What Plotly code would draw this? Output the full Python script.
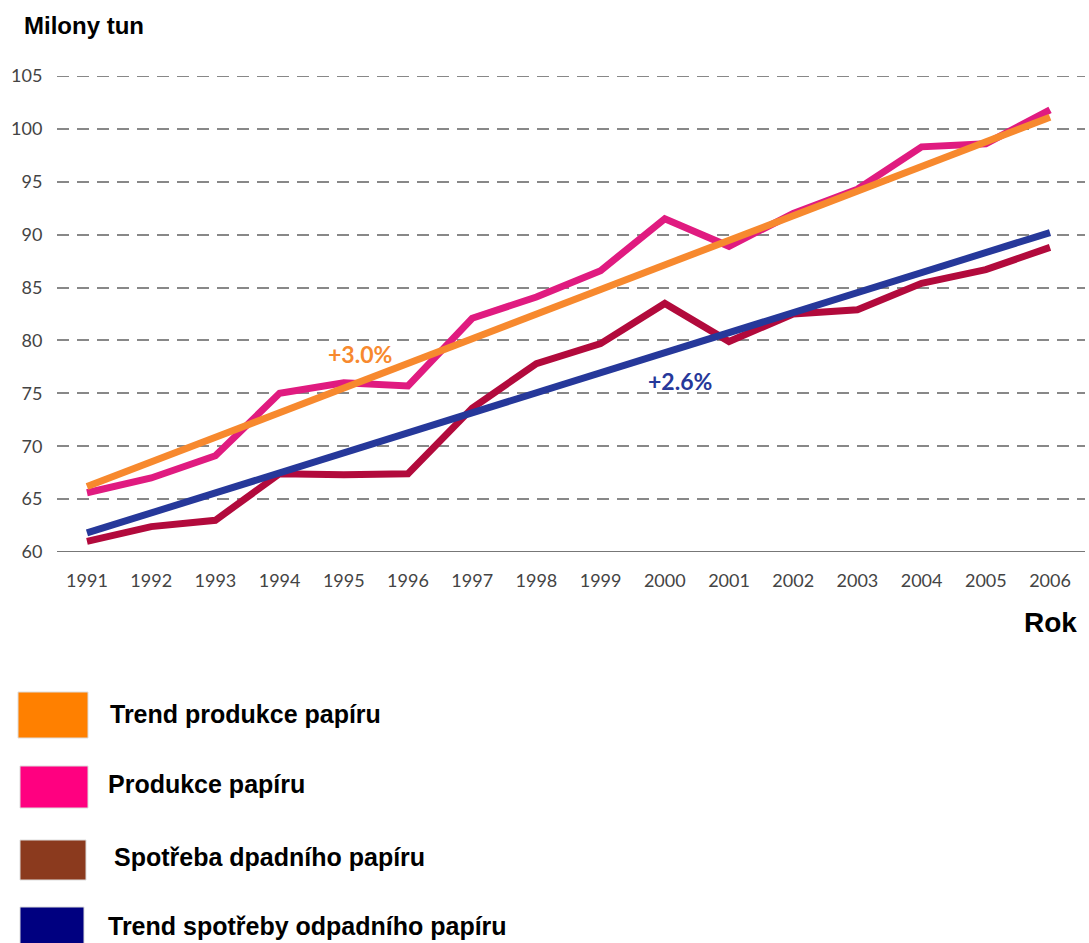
import plotly.graph_objects as go

years = list(range(1991, 2007))
produkce = [65.6, 67.0, 69.1, 75.0, 76.0, 75.7, 82.1, 84.1, 86.6, 91.5, 88.9, 92.0, 94.3, 98.3, 98.6, 101.8]
spotreba = [61.0, 62.4, 63.0, 67.4, 67.3, 67.4, 73.6, 77.8, 79.7, 83.5, 79.9, 82.5, 82.9, 85.4, 86.7, 88.8]
trend_prod_x = [1991, 2006]
trend_prod_y = [66.2, 101.1]
trend_spot_x = [1991, 2006]
trend_spot_y = [61.8, 90.2]
y_ticks = [60, 65, 70, 75, 80, 85, 90, 95, 100, 105]
legend_labels = ["Trend produkce papíru", "Produkce papíru", "Spotřeba dpadního papíru", "Trend spotřeby odpadního papíru"]
legend_colors = ["#FF8000", "#FF0080", "#8B3A1E", "#000080"]

C_ORANGE = "#F7892E"
C_PINK = "#E01B80"
C_CRIMSON = "#B20A3C"
C_BLUE = "#26389A"

fig = go.Figure()
fig.add_trace(go.Scatter(x=years, y=produkce, mode="lines", line=dict(color=C_PINK, width=7), showlegend=False))
fig.add_trace(go.Scatter(x=years, y=spotreba, mode="lines", line=dict(color=C_CRIMSON, width=7), showlegend=False))
fig.add_trace(go.Scatter(x=trend_prod_x, y=trend_prod_y, mode="lines", line=dict(color=C_ORANGE, width=7), showlegend=False))
fig.add_trace(go.Scatter(x=trend_spot_x, y=trend_spot_y, mode="lines", line=dict(color=C_BLUE, width=7), showlegend=False))

W, H = 1089, 943
L, R, T, B = 57, 4, 76, 391
pw = W - L - R
ph = H - T - B

def px(xp):
    return (xp - L) / pw

def py(yp):
    return (H - B - yp) / ph

# baseline and top gridline
fig.add_shape(type="line", xref="paper", yref="y", x0=0, x1=1, y0=60, y1=60,
              line=dict(color="#777777", width=2), layer="below")
fig.add_shape(type="line", xref="paper", yref="y", x0=0, x1=1, y0=105, y1=105,
              line=dict(color="#888888", width=2, dash="12px,8px"), layer="below")

annotations = [
    dict(x=1995.25, y=78.7, xref="x", yref="y", text="<b>+3.0%</b>", showarrow=False,
         font=dict(color=C_ORANGE, size=23, family="Lato")),
    dict(x=2000.24, y=76.2, xref="x", yref="y", text="<b>+2.6%</b>", showarrow=False,
         font=dict(color=C_BLUE, size=23, family="Lato")),
    dict(x=px(22), y=py(26), xref="paper", yref="paper", xanchor="left", yanchor="middle",
         text="<b>Milony tun</b>", showarrow=False,
         font=dict(color="#000000", size=24, family="Liberation Sans")),
    dict(x=px(1079), y=py(622), xref="paper", yref="paper", xanchor="right", yanchor="middle",
         text="<b>Rok</b>", showarrow=False,
         font=dict(color="#000000", size=28, family="Liberation Sans")),
]

rows = [(18, 88, 692, 738, 108, 714), (20, 88, 766, 808, 106, 784), (20, 86, 840, 880, 112, 857), (20, 84, 907, 948, 106, 926)]
for (x0, x1, y0, y1, tx, ty), lab, col in zip(rows, legend_labels, legend_colors):
    fig.add_shape(type="rect", xref="paper", yref="paper", x0=px(x0), x1=px(x1), y0=py(y1), y1=py(y0),
                  fillcolor=col, line=dict(color="#DDDDDD", width=1))
    annotations.append(dict(x=px(tx), y=py(ty), xref="paper", yref="paper", xanchor="left", yanchor="middle",
                            text="<b>" + lab + "</b>", showarrow=False,
                            font=dict(color="#000000", size=25, family="Liberation Sans")))

fig.update_layout(
    width=W, height=H,
    margin=dict(l=L, r=R, t=T, b=B),
    paper_bgcolor="white", plot_bgcolor="white",
    annotations=annotations,
    xaxis=dict(range=[1990.533, 2006.545], tickmode="array", tickvals=years, ticktext=[str(y) for y in years],
               showgrid=False, zeroline=False, showline=False, ticks="outside", ticklen=12, tickcolor="white",
               tickfont=dict(size=18, color="#444444", family="Lato")),
    yaxis=dict(range=[60, 105], tickmode="array", tickvals=y_ticks, showgrid=True, gridcolor="#888888",
               gridwidth=2, griddash="12px,8px", zeroline=False, showline=False, ticks="outside", ticklen=10,
               tickcolor="white", tickfont=dict(size=18, color="#444444", family="Lato")),
)

fig.write_html("out.html")
